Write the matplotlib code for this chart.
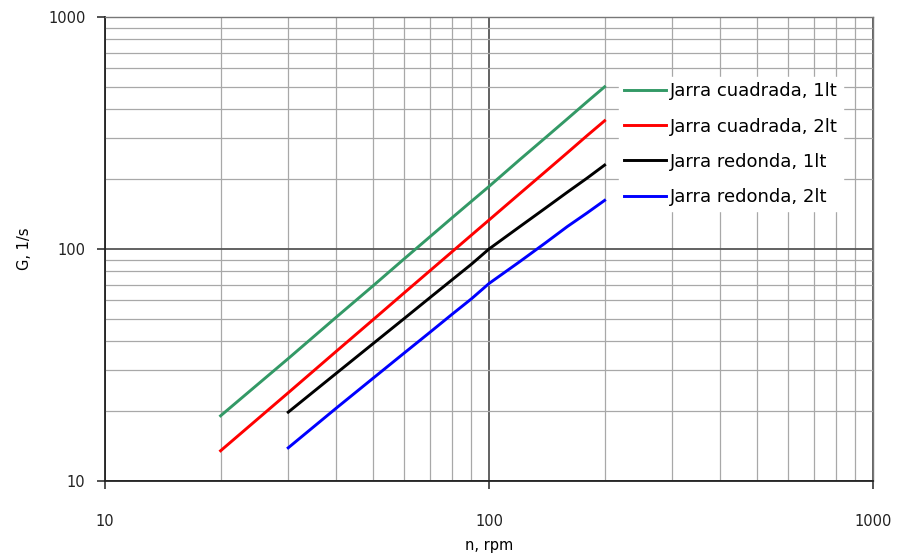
import matplotlib
matplotlib.use("Agg")
import matplotlib.pyplot as plt
from matplotlib.ticker import LogLocator, FixedLocator, NullFormatter

n_sq = [20, 30, 40, 50, 60, 70, 80, 90, 100, 120, 140, 160, 180, 200]
g_sq_1lt = [19.1, 33.7, 50.8, 69.6, 90.4, 112.5, 136, 160.5, 186, 242, 301, 364, 431, 500]
g_sq_2lt = [13.5, 24.0, 36.2, 49.7, 64.5, 80.3, 97.1, 114.8, 133.3, 172.8, 215, 260, 308, 357]

n_rd = [30, 40, 50, 60, 70, 80, 90, 100, 120, 140, 160, 180, 200]
g_rd_1lt = [19.8, 29.1, 39.2, 50, 61.5, 73.5, 86, 100, 124.5, 149.7, 175.8, 202, 230]
g_rd_2lt = [13.9, 20.6, 27.8, 35.5, 43.6, 52.2, 61, 71, 88, 106, 125, 143, 162]

labels = ["Jarra cuadrada, 1lt", "Jarra cuadrada, 2lt",
          "Jarra redonda, 1lt", "Jarra redonda, 2lt"]
colors = ["#339966", "#ff0000", "#000000", "#0000ff"]

plt.rcParams['font.family'] = ['DejaVu Sans']

fig = plt.figure(figsize=(8.98, 5.56), dpi=100)
ax = fig.add_axes([105/898, 75/556, 768/898, 464/556])

ax.set_xscale('log')
ax.set_yscale('log')
ax.set_xlim(10, 1000)
ax.set_ylim(10, 1000)

ax.plot(n_sq, g_sq_1lt, color=colors[0], lw=2.1, label=labels[0])
ax.plot(n_sq, g_sq_2lt, color=colors[1], lw=2.1, label=labels[1])
ax.plot(n_rd, g_rd_1lt, color=colors[2], lw=2.1, label=labels[2])
ax.plot(n_rd, g_rd_2lt, color=colors[3], lw=2.1, label=labels[3])

for axis in (ax.xaxis, ax.yaxis):
    axis.set_major_locator(FixedLocator([10, 100, 1000]))
    axis.set_minor_locator(LogLocator(base=10, subs=range(2, 10)))
    axis.set_minor_formatter(NullFormatter())
ax.set_xticklabels(['10', '100', '1000'])
ax.set_yticklabels(['10', '100', '1000'])

ax.grid(which='major', color='#555555', lw=1.3)
ax.grid(which='minor', color='#a8a8a8', lw=0.9)
ax.set_axisbelow(True)

ax.tick_params(which='major', direction='out', length=6, width=1.1, colors='#222222', labelsize=10.5)
ax.tick_params(axis='x', which='major', pad=18)
ax.tick_params(axis='y', which='major', pad=8)
ax.tick_params(which='minor', length=0)

for side in ('left', 'bottom'):
    ax.spines[side].set_color('#222222')
    ax.spines[side].set_linewidth(1.3)
for side in ('top', 'right'):
    ax.spines[side].set_color('#777777')
    ax.spines[side].set_linewidth(1.0)

ax.set_xlabel('n, rpm', fontsize=10.5, labelpad=6)
ax.set_ylabel('G, 1/s', fontsize=10.5, labelpad=12)

leg = ax.legend(loc='upper left', bbox_to_anchor=((619-105)/768, (481-77)/464),
                frameon=True, fontsize=13, handlelength=2.3, handletextpad=0.2,
                labelspacing=0.95, borderpad=0.3, borderaxespad=0)
leg.get_frame().set_facecolor('white')
leg.get_frame().set_edgecolor('white')
leg.get_frame().set_alpha(1)
leg.get_frame().set_boxstyle('square', pad=0)

fig.savefig('out.png', dpi=100)
